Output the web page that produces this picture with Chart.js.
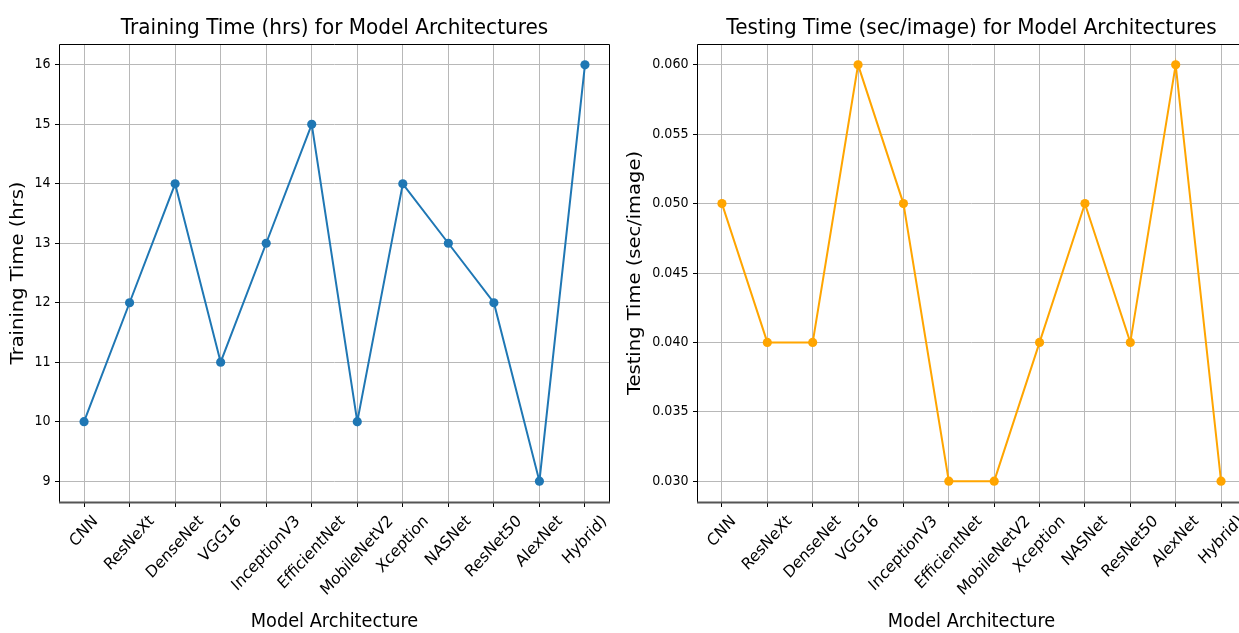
<!DOCTYPE html>
<html>
<head>
<meta charset="utf-8">
<script src="https://cdn.jsdelivr.net/npm/chart.js@4/dist/chart.umd.min.js"></script>
<style>
  html, body { margin: 0; padding: 0; background: #fff; overflow: hidden; width: 1239px; height: 633px; }
  canvas { position: absolute; top: 0; }
  #trainChart { left: 0; }
  #testChart { left: 620px; }
</style>
</head>
<body>
<canvas id="trainChart" width="620" height="633"></canvas>
<canvas id="testChart" width="640" height="633"></canvas>
<script>
// Model architectures compared in both panels
const architectures = ['CNN', 'ResNeXt', 'DenseNet', 'VGG16', 'InceptionV3', 'EfficientNet',
                       'MobileNetV2', 'Xception', 'NASNet', 'ResNet50', 'AlexNet', 'Hybrid)'];

// Training time per architecture, hours
const trainingHours = [10, 12, 14, 11, 13, 15, 10, 14, 13, 12, 9, 16];

// Inference time per architecture, seconds per image
const testingSecPerImage = [0.05, 0.04, 0.04, 0.06, 0.05, 0.03, 0.03, 0.04, 0.05, 0.04, 0.06, 0.03];

// Y-axis ticks and their labels
const trainTicks = [9, 10, 11, 12, 13, 14, 15, 16];
const trainTickLabels = ['9', '10', '11', '12', '13', '14', '15', '16'];
const testTicks = [0.030, 0.035, 0.040, 0.045, 0.050, 0.055, 0.060];
const testTickLabels = ['0.030', '0.035', '0.040', '0.045', '0.050', '0.055', '0.060'];

const FONT = "'DejaVu Sans', sans-serif";
const SX = 0.91; // horizontal text compression

// Draws titles, tick labels, axis labels and the full frame around the plot area
function decorPlugin(cfg) {
  return {
    id: 'decor',
    afterDraw(chart) {
      const ctx = chart.ctx;
      const a = chart.chartArea;
      const xs = chart.scales.x, ys = chart.scales.y;
      ctx.save();
      // frame
      ctx.strokeStyle = '#000';
      ctx.lineWidth = 1;
      ctx.beginPath();
      ctx.moveTo(a.left + 0.5, a.bottom);
      ctx.lineTo(a.left + 0.5, a.top + 0.5);
      ctx.lineTo(a.right - 0.5, a.top + 0.5);
      ctx.lineTo(a.right - 0.5, a.bottom);
      ctx.stroke();
      ctx.strokeStyle = '#555';
      ctx.lineWidth = 2;
      ctx.beginPath();
      ctx.moveTo(a.left, a.bottom + 0.5);
      ctx.lineTo(a.right, a.bottom + 0.5);
      ctx.stroke();

      ctx.fillStyle = '#000';
      const cx = (a.left + a.right) / 2;

      // title
      ctx.save();
      ctx.translate(cx, 34);
      ctx.scale(SX, 1);
      ctx.font = '22px ' + FONT;
      ctx.textAlign = 'center';
      ctx.textBaseline = 'alphabetic';
      ctx.fillText(cfg.title, 0, 0);
      ctx.restore();

      // x axis label
      ctx.save();
      ctx.translate(cx, 627);
      ctx.scale(SX, 1);
      ctx.font = '19.5px ' + FONT;
      ctx.textAlign = 'center';
      ctx.fillText(cfg.xTitle, 0, 0);
      ctx.restore();

      // y axis label
      ctx.save();
      ctx.translate(a.left - cfg.yTitleOffset, (a.top + a.bottom) / 2);
      ctx.scale(SX, 1);
      ctx.rotate(-Math.PI / 2);
      ctx.font = '19.5px ' + FONT;
      ctx.textAlign = 'center';
      ctx.textBaseline = 'alphabetic';
      ctx.fillText(cfg.yTitle, 0, 0);
      ctx.restore();

      // y tick labels
      ctx.font = '13.9px ' + FONT;
      cfg.yTicks.forEach((v, i) => {
        const py = ys.getPixelForValue(v);
        ctx.save();
        ctx.translate(a.left - 8.5, py);
        ctx.scale(SX, 1);
        ctx.textAlign = 'right';
        ctx.textBaseline = 'middle';
        ctx.fillText(cfg.yLabels[i], 0, 0);
        ctx.restore();
      });

      // x tick labels, rotated 45 degrees and centred under each tick
      ctx.font = '16.5px ' + FONT;
      const h = 16.5 * 1.16;
      architectures.forEach((name, i) => {
        const px = xs.getPixelForValue(i);
        const w = ctx.measureText(name).width;
        const half = (w + h) / 2 * Math.SQRT1_2;
        ctx.save();
        ctx.translate(px, a.bottom + 10);
        ctx.scale(SX, 1);
        ctx.translate(0, half);
        ctx.rotate(-Math.PI / 4);
        ctx.textAlign = 'center';
        ctx.textBaseline = 'middle';
        ctx.fillText(name, 0, 0);
        ctx.restore();
      });
      ctx.restore();
    }
  };
}

function buildChart(id, values, color, yMin, yMax, ticks, labels, yAxisWidth, padRight, title, yTitle, yTitleOffset) {
  const points = values.map((v, i) => ({ x: i, y: v }));
  return new Chart(document.getElementById(id), {
    type: 'line',
    data: {
      datasets: [{
        data: points,
        borderColor: color,
        backgroundColor: color,
        borderWidth: 2,
        pointRadius: 4.6,
        pointBorderWidth: 0,
        pointBackgroundColor: color,
        tension: 0,
        fill: false
      }]
    },
    options: {
      responsive: false,
      animation: false,
      events: [],
      layout: { padding: { top: 44, right: padRight, left: 0, bottom: 0 } },
      plugins: { legend: { display: false }, tooltip: { enabled: false }, title: { display: false } },
      scales: {
        x: {
          type: 'linear',
          min: -0.55,
          max: architectures.length - 1 + 0.55,
          afterBuildTicks: s => { s.ticks = architectures.map((_, i) => ({ value: i })); },
          afterFit: s => { s.height = 131; },
          ticks: { display: false },
          border: { display: false },
          grid: { color: '#b8b8b8', lineWidth: 1, drawTicks: true, tickLength: 5, tickColor: '#000', tickWidth: 1 }
        },
        y: {
          type: 'linear',
          min: yMin,
          max: yMax,
          afterBuildTicks: s => { s.ticks = ticks.map(v => ({ value: v })); },
          afterFit: s => { s.width = yAxisWidth; },
          ticks: { display: false },
          border: { display: false },
          grid: { color: '#b8b8b8', lineWidth: 1, drawTicks: true, tickLength: 4, tickColor: '#000', tickWidth: 1 }
        }
      }
    },
    plugins: [decorPlugin({
      title: title, xTitle: 'Model Architecture', yTitle: yTitle, yTitleOffset: yTitleOffset,
      yTicks: ticks, yLabels: labels
    })]
  });
}

buildChart('trainChart', trainingHours, '#1f77b4', 8.65, 16.35, trainTicks, trainTickLabels,
           59, 10, 'Training Time (hrs) for Model Architectures', 'Training Time (hrs)', 36);
buildChart('testChart', testingSecPerImage, '#ffa500', 0.0285, 0.0615, testTicks, testTickLabels,
           77, 14, 'Testing Time (sec/image) for Model Architectures', 'Testing Time (sec/image)', 57);
</script>
</body>
</html>
